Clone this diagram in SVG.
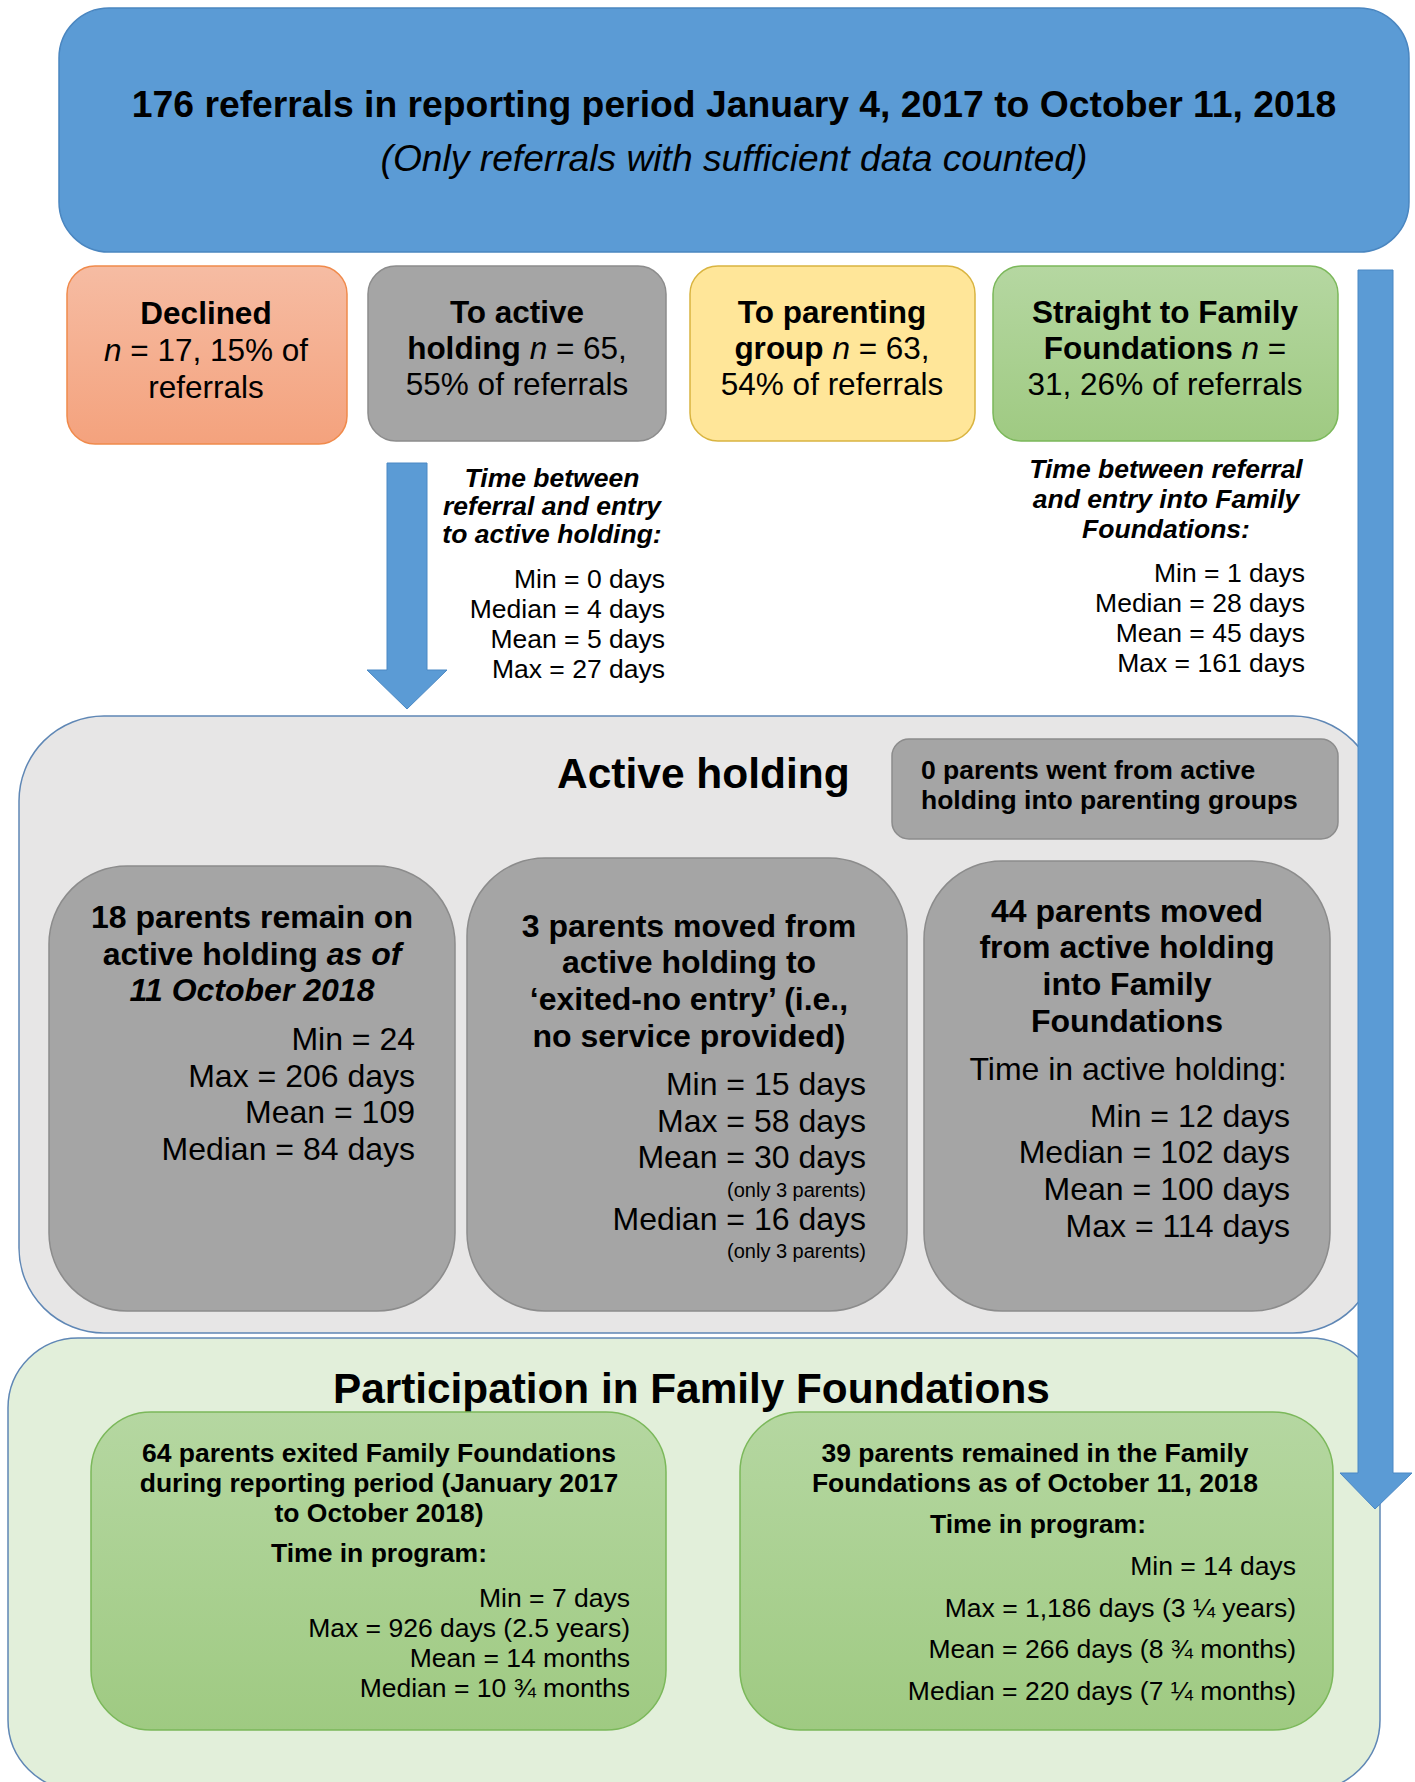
<svg xmlns="http://www.w3.org/2000/svg" width="1415" height="1782" viewBox="0 0 1415 1782">
<defs>
<linearGradient id="gSalmon" x1="0" y1="0" x2="0" y2="1"><stop offset="0" stop-color="#f6bca3"/><stop offset="1" stop-color="#f4a27d"/></linearGradient>
<linearGradient id="gGreen" x1="0" y1="0" x2="0" y2="1"><stop offset="0" stop-color="#b5d7a1"/><stop offset="1" stop-color="#9fca82"/></linearGradient>
<style>
text{font-family:"Liberation Sans",Arial,sans-serif;fill:#000}
.b{font-weight:bold}
.i{font-style:italic}
.c{text-anchor:middle}
.r{text-anchor:end}
.s31{font-size:31.5px}
.s32{font-size:32px}
.s26{font-size:26.5px}
.gray{fill:#a5a5a5;stroke:#8c8c8c;stroke-width:1.5}
.green{fill:url(#gGreen);stroke:#7bb85a;stroke-width:1.5}
.arrow{fill:#5b9bd5;stroke:#4a88c4;stroke-width:1}
</style>
</defs>

<g id="container-active">
<rect x="19" y="716" width="1359" height="617" rx="85" fill="#e7e6e6" stroke="#5f87b5" stroke-width="1.5"/>
<text class="b" x="557" y="788" font-size="42.5">Active holding</text>
</g>
<g id="container-participation">
<rect x="8" y="1338" width="1372" height="452" rx="70" fill="#e2efda" stroke="#5f87b5" stroke-width="1.5"/>
<text class="b" x="333" y="1403" font-size="42.3">Participation in Family Foundations</text>
</g>

<g id="top">
<rect x="59" y="8" width="1350" height="244" rx="50" fill="#5b9bd5" stroke="#4a86c0" stroke-width="1.5"/>
<text class="b c" x="734" y="117" font-size="37.3">176 referrals in reporting period January 4, 2017 to October 11, 2018</text>
<text class="i c" x="734" y="171" font-size="37.2">(Only referrals with sufficient data counted)</text>
</g>

<g id="declined">
<rect x="67" y="266" width="280" height="178" rx="28" fill="url(#gSalmon)" stroke="#f08a4b" stroke-width="1.5"/>
<text class="c s31" x="206" y="324"><tspan class="b">Declined</tspan></text>
<text class="c s31" x="206" y="361"><tspan class="i">n</tspan> = 17, 15% of</text>
<text class="c s31" x="206" y="398">referrals</text>
</g>

<g id="to-active">
<rect x="368" y="266" width="298" height="175" rx="28" class="gray"/>
<text class="c s31 b" x="517" y="323">To active</text>
<text class="c s31" x="517" y="359"><tspan class="b">holding</tspan> <tspan class="i">n</tspan> = 65,</text>
<text class="c s31" x="517" y="395">55% of referrals</text>
</g>

<g id="to-parenting">
<rect x="690" y="266" width="285" height="175" rx="28" fill="#ffe699" stroke="#d9b440" stroke-width="1.5"/>
<text class="c s31 b" x="832" y="323">To parenting</text>
<text class="c s31" x="832" y="359"><tspan class="b">group</tspan> <tspan class="i">n</tspan> = 63,</text>
<text class="c s31" x="832" y="395">54% of referrals</text>
</g>

<g id="straight-ff">
<rect x="993" y="266" width="345" height="175" rx="28" class="green"/>
<text class="c s31 b" x="1165" y="323">Straight to Family</text>
<text class="c s31" x="1165" y="359"><tspan class="b">Foundations</tspan> <tspan class="i">n</tspan> =</text>
<text class="c s31" x="1165" y="395">31, 26% of referrals</text>
</g>

<g id="note-active">
<text class="c b i s26" x="552" y="487">Time between</text>
<text class="c b i s26" x="552" y="515">referral and entry</text>
<text class="c b i s26" x="552" y="543">to active holding:</text>
<text class="r s26" x="665" y="588">Min = 0 days</text>
<text class="r s26" x="665" y="618">Median = 4 days</text>
<text class="r s26" x="665" y="648">Mean = 5 days</text>
<text class="r s26" x="665" y="678">Max = 27 days</text>
</g>

<g id="note-ff">
<text class="c b i s26" x="1166" y="478">Time between referral</text>
<text class="c b i s26" x="1166" y="508">and entry into Family</text>
<text class="c b i s26" x="1166" y="538">Foundations:</text>
<text class="r s26" x="1305" y="582">Min = 1 days</text>
<text class="r s26" x="1305" y="612">Median = 28 days</text>
<text class="r s26" x="1305" y="642">Mean = 45 days</text>
<text class="r s26" x="1305" y="672">Max = 161 days</text>
</g>

<g id="zero-parents">
<rect x="892" y="739" width="446" height="100" rx="17" class="gray"/>
<text class="b s26" x="921" y="779">0 parents went from active</text>
<text class="b s26" x="921" y="809">holding into parenting groups</text>
</g>

<g id="remain-active">
<rect x="49" y="866" width="406" height="445" rx="78" class="gray"/>
<text class="c b s32" x="252" y="928">18 parents remain on</text>
<text class="c b s32" x="252" y="965">active holding <tspan class="i">as of</tspan></text>
<text class="c b i s32" x="252" y="1001">11 October 2018</text>
<text class="r s32" x="415" y="1050">Min = 24</text>
<text class="r s32" x="415" y="1087">Max = 206 days</text>
<text class="r s32" x="415" y="1123">Mean = 109</text>
<text class="r s32" x="415" y="1160">Median = 84 days</text>
</g>

<g id="exited-no-entry">
<rect x="467" y="858" width="440" height="453" rx="78" class="gray"/>
<text class="c b s32" x="689" y="937">3 parents moved from</text>
<text class="c b s32" x="689" y="973">active holding to</text>
<text class="c b s32" x="689" y="1010">‘exited-no entry’ (i.e.,</text>
<text class="c b s32" x="689" y="1047">no service provided)</text>
<text class="r s32" x="866" y="1095">Min = 15 days</text>
<text class="r s32" x="866" y="1132">Max = 58 days</text>
<text class="r s32" x="866" y="1168">Mean = 30 days</text>
<text class="r" x="866" y="1197" font-size="20">(only 3 parents)</text>
<text class="r s32" x="866" y="1230">Median = 16 days</text>
<text class="r" x="866" y="1258" font-size="20">(only 3 parents)</text>
</g>

<g id="into-ff">
<rect x="924" y="861" width="406" height="450" rx="78" class="gray"/>
<text class="c b s32" x="1127" y="922">44 parents moved</text>
<text class="c b s32" x="1127" y="958">from active holding</text>
<text class="c b s32" x="1127" y="995">into Family</text>
<text class="c b s32" x="1127" y="1032">Foundations</text>
<text class="c s32" x="1128" y="1080">Time in active holding:</text>
<text class="r s32" x="1290" y="1127">Min = 12 days</text>
<text class="r s32" x="1290" y="1163">Median = 102 days</text>
<text class="r s32" x="1290" y="1200">Mean = 100 days</text>
<text class="r s32" x="1290" y="1237">Max = 114 days</text>
</g>

<g id="exited-ff">
<rect x="91" y="1412" width="575" height="318" rx="60" class="green"/>
<text class="c b s26" x="379" y="1462">64 parents exited Family Foundations</text>
<text class="c b s26" x="379" y="1492">during reporting period (January 2017</text>
<text class="c b s26" x="379" y="1522">to October 2018)</text>
<text class="c b s26" x="379" y="1562">Time in program:</text>
<text class="r s26" x="630" y="1607">Min = 7 days</text>
<text class="r s26" x="630" y="1637">Max = 926 days (2.5 years)</text>
<text class="r s26" x="630" y="1667">Mean = 14 months</text>
<text class="r s26" x="630" y="1697">Median = 10 ¾ months</text>
</g>

<g id="remained-ff">
<rect x="740" y="1412" width="593" height="318" rx="60" class="green"/>
<text class="c b s26" x="1035" y="1462">39 parents remained in the Family</text>
<text class="c b s26" x="1035" y="1492">Foundations as of October 11, 2018</text>
<text class="c b s26" x="1038" y="1533">Time in program:</text>
<text class="r s26" x="1296" y="1575">Min = 14 days</text>
<text class="r s26" x="1296" y="1617">Max = 1,186 days (3 ¼ years)</text>
<text class="r s26" x="1296" y="1658">Mean = 266 days (8 ¾ months)</text>
<text class="r s26" x="1296" y="1700">Median = 220 days (7 ¼ months)</text>
</g>

<g id="connectors">
<path class="arrow" d="M387 463 H427 V670 H447 L407 709 L367 670 H387 Z"/>
<path class="arrow" d="M1358 270 H1393 V1473 H1412 L1375 1509 L1340 1473 H1358 Z"/>
</g>
</svg>
